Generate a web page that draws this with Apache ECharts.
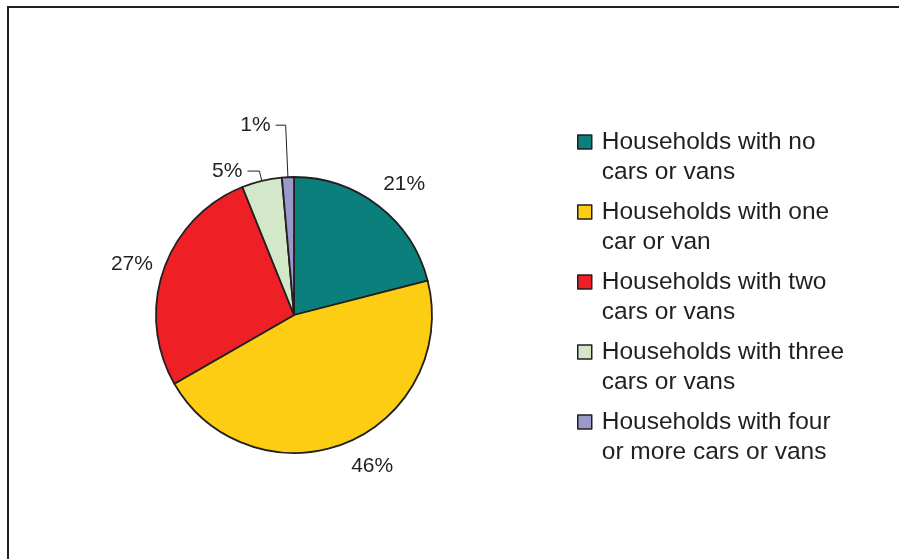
<!DOCTYPE html>
<html>
<head>
<meta charset="utf-8">
<script src="https://cdn.jsdelivr.net/npm/echarts@6/dist/echarts.min.js"></script>
<style>
  html, body { margin: 0; padding: 0; background: #fff; }
  #chart { width: 899px; height: 559px; }
</style>
</head>
<body>
<div id="chart"></div>
<script>
// categories and their share of households (%)
const categories = [
  'Households with no cars or vans',
  'Households with one car or van',
  'Households with two cars or vans',
  'Households with three cars or vans',
  'Households with four or more cars or vans'
];
const shares = [21.0, 45.7, 27.2, 4.7, 1.4];

const palette = ['#0b7f7b', '#fccd12', '#ee2026', '#d2e8c8', '#9a99cc'];
const ink = '#231f20';
const font = '"Liberation Sans", Arial, sans-serif';

// big slices: label sits off the rim without a line; small ones get a leader line
const leaderLines = [
  { show: false, length: 28, length2: -17.6 },
  { show: false, length: 25, length2: -9.3 },
  { show: false, length: 18, length2: -11.4 },
  { show: true, length: 10, length2: 12 },
  { show: true, length: 52, length2: 10 }
];

// break legend names after "Households with X"; the leading empty line
// keeps the first text line level with the swatch
function wrapName(name) {
  const words = name.split(' ');
  return '\n' + words.slice(0, 3).join(' ') + '\n' + words.slice(3).join(' ');
}

const chart = echarts.init(document.getElementById('chart'), null, { renderer: 'canvas' });

chart.setOption({
  animation: false,
  color: palette,
  graphic: [{
    type: 'rect',
    shape: { x: 8, y: 7, width: 1000, height: 1000 },
    style: { fill: 'none', stroke: ink, lineWidth: 2 },
    silent: true
  }],
  legend: {
    orient: 'vertical',
    left: 577,
    top: 97,
    padding: 0,
    itemWidth: 14,
    itemHeight: 14,
    itemGap: -20,
    icon: 'rect',
    selectedMode: false,
    itemStyle: { borderColor: ink, borderWidth: 1.5 },
    formatter: wrapName,
    textStyle: {
      fontFamily: font,
      fontSize: 24.5,
      color: ink,
      lineHeight: 30,
      padding: [0, 0, 0, 5]
    },
    data: categories
  },
  series: [{
    type: 'pie',
    center: [294, 315],
    radius: 138,
    startAngle: 90,
    clockwise: true,
    avoidLabelOverlap: false,
    silent: true,
    itemStyle: { borderColor: ink, borderWidth: 1.8 },
    label: {
      show: true,
      position: 'outside',
      formatter: p => Math.round(p.value) + '%',
      fontFamily: font,
      fontSize: 21,
      color: ink,
      distanceToLabelLine: 5
    },
    labelLine: { lineStyle: { color: ink, width: 1 }, smooth: false },
    data: categories.map((name, i) => ({
      name: name,
      value: shares[i],
      labelLine: leaderLines[i]
    }))
  }]
});
</script>
</body>
</html>
